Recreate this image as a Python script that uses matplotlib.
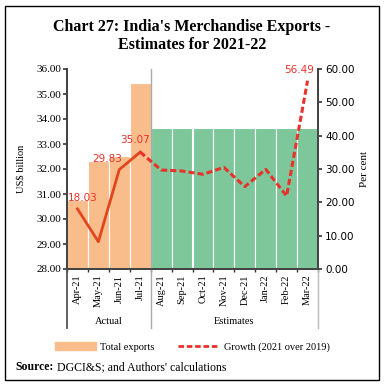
import matplotlib
matplotlib.use("Agg")

import matplotlib.pyplot as plt
from matplotlib.lines import Line2D
from matplotlib.patches import Patch, Rectangle

# Datos
months = ["Apr-21", "May-21", "Jun-21", "Jul-21", "Aug-21", "Sep-21",
          "Oct-21", "Nov-21", "Dec-21", "Jan-22", "Feb-22", "Mar-22"]
exports = [30.76, 32.32, 32.52, 35.43, 33.63, 33.63,
           33.63, 33.63, 33.63, 33.63, 33.63, 33.63]
growth = [18.03, 8.2, 29.83, 35.07, 29.7, 29.4,
          28.4, 30.5, 24.7, 29.9, 21.9, 56.49]
groups = ["Actual", "Estimates"]
n_actual = 4
labelled = {0: "18.03", 2: "29.83", 3: "35.07", 11: "56.49"}

serif = "Liberation Serif"
plt.rcParams["font.family"] = serif

orange = "#F9BD8C"
green = "#7DC79B"
red = "#E8322B"

fig = plt.figure(figsize=(3.84, 3.86), dpi=100)
ax = fig.add_axes([67 / 384, 1 - 269 / 386, 251 / 384, 200 / 386])
ax2 = ax.twinx()

x = list(range(len(months)))
colors = [orange if i < n_actual else green for i in x]
ax.bar(x, exports, width=1.0, color=colors, edgecolor="white", linewidth=0.8, zorder=2)

# Lineas de crecimiento: continua para los datos reales, discontinua para estimaciones
ax2.plot(x[:n_actual], growth[:n_actual], color="#E2461E", lw=2.0, zorder=3)
ax2.plot(x[n_actual - 1:], growth[n_actual - 1:], color=red, lw=2.2,
         dashes=(2, 1), zorder=3)

offsets = {0: (4, 4), 2: (-9, 4), 3: (-4, 5), 11: (-6, 4)}
for i, txt in labelled.items():
    ax2.annotate(txt, (x[i], growth[i]), xytext=offsets[i], textcoords="offset points",
                 ha="center", va="bottom", color=red, fontsize=7.5, family="DejaVu Sans")

ax.set_xlim(-0.5, len(months) - 0.5)
ax.set_ylim(28, 36)
ax2.set_ylim(0, 60)
ax.set_yticks(range(28, 37))
ax.set_yticklabels([f"{v:.2f}" for v in range(28, 37)], fontsize=8)
ax2.set_yticks(range(0, 61, 10))
ax2.set_yticklabels([f"{v:.2f}" for v in range(0, 61, 10)], fontsize=7.5,
                    family="DejaVu Sans")

ax.set_xticks(x)
ax.set_xticklabels(months, rotation=90, fontsize=7.5)
ax.set_xticks([i + 0.5 for i in range(-1, len(months))], minor=True)
ax.tick_params(axis="x", which="major", length=0, pad=4)
ax.tick_params(axis="x", which="minor", length=2.5, width=1, color="#333333")
ax.tick_params(axis="y", length=3, width=1.2, color="#333333", pad=1)
ax2.tick_params(axis="y", length=3, width=1.2, color="#333333", pad=2)

for a in (ax, ax2):
    a.spines["top"].set_visible(False)
    for s in ("left", "right", "bottom"):
        a.spines[s].set_color("#444444")
        a.spines[s].set_linewidth(1.3)

ax.set_ylabel("US$ billion", fontsize=7.5, labelpad=8)
ax2.set_ylabel("Per cent", fontsize=8, labelpad=4)

# Eje de categorias en dos niveles
tr = ax.get_xaxis_transform()
ax.plot([n_actual - 0.5] * 2, [-0.295, 1.0], transform=tr, color="#AAAAAA",
        lw=1, clip_on=False, zorder=4)
ax.plot([-0.5] * 2, [-0.295, 0], transform=tr, color="#555555", lw=1.3, clip_on=False)
ax.plot([len(months) - 0.5] * 2, [-0.295, 0], transform=tr, color="#BBBBBB",
        lw=1, clip_on=False)
ax.text((n_actual - 1) / 2, -0.265, groups[0], transform=tr, ha="center",
        va="center", fontsize=7.5)
ax.text((n_actual + len(months) - 1) / 2, -0.265, groups[1], transform=tr,
        ha="center", va="center", fontsize=7.5)

fig.text(0.5, 1 - 36 / 386, "Chart 27: India's Merchandise Exports -\nEstimates for 2021-22",
         ha="center", va="center", fontsize=11.5, fontweight="bold", linespacing=1.2)

handles = [Patch(color=orange, label="Total exports"),
           Line2D([], [], color=red, lw=2, dashes=(2, 1), label="Growth (2021 over 2019)")]
fig.legend(handles=handles, loc="center", bbox_to_anchor=(0.5, 1 - 347 / 386), ncol=2,
           frameon=False, fontsize=7.5, handlelength=4, columnspacing=2.2,
           handletextpad=0.4)

fig.text(15 / 384, 1 - 367 / 386, "Source:", fontsize=8.5, fontweight="bold", va="center")
fig.text(57 / 384, 1 - 367 / 386, "DGCI&S; and Authors' calculations", fontsize=8.5,
         va="center")

fig.patches.append(Rectangle((5 / 384, 6 / 386), 374 / 384, 374 / 386, fill=False,
                             lw=1, edgecolor="black", transform=fig.transFigure))

fig.savefig("out.png", dpi=100)
